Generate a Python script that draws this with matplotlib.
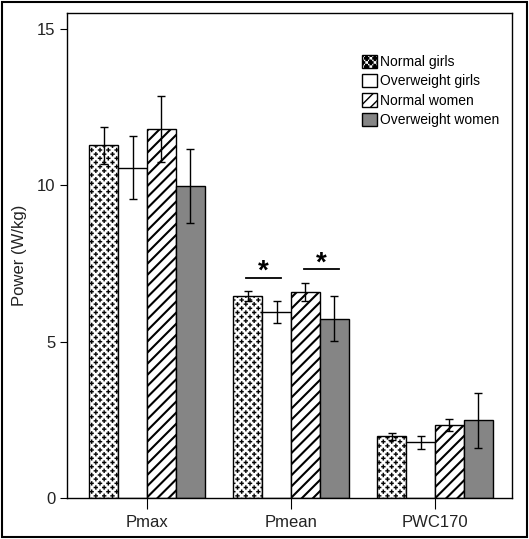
import numpy as np
import matplotlib.pyplot as plt
import matplotlib.hatch as mhatch
from matplotlib.path import Path
from matplotlib.patches import Rectangle

plt.rcParams['font.family'] = ['Liberation Sans', 'DejaVu Sans']


# '*' hatch redrawn as a staggered lattice of small filled plus signs
class PlusHatch(mhatch.HatchPatternBase):
    def __init__(self, hatch, density):
        self.n = hatch.count('*') * density
        a, h = 0.021, 0.0065
        self.shape = np.array([[-h, a], [h, a], [h, h], [a, h], [a, -h], [h, -h],
                               [h, -a], [-h, -a], [-h, -h], [-a, -h], [-a, h],
                               [-h, h], [-h, a]])
        self.centers = []
        if self.n:
            for r in range(2 * self.n + 1):
                y = r / (2 * self.n)
                shift = 0.5 if r % 2 else 0.0
                for k in range(self.n + 1):
                    self.centers.append(((k + shift) / self.n, y))
        self.num_vertices = len(self.centers) * len(self.shape)

    def set_vertices_and_codes(self, vertices, codes):
        m = len(self.shape)
        for i, (cx, cy) in enumerate(self.centers):
            vertices[i * m:(i + 1) * m] = self.shape + [cx, cy]
            codes[i * m] = Path.MOVETO
            codes[i * m + 1:(i + 1) * m] = Path.LINETO


mhatch._hatch_types = [t for t in mhatch._hatch_types if t is not mhatch.Stars] + [PlusHatch]

categories = ['Pmax', 'Pmean', 'PWC170']
groups = ['Normal girls', 'Overweight girls', 'Normal women', 'Overweight women']
means = [
    [11.27, 6.45, 1.97],   # normal girls
    [10.55, 5.94, 1.78],   # overweight girls
    [11.79, 6.59, 2.33],   # normal women
    [9.97, 5.73, 2.48],    # overweight women
]
errs = [
    [0.60, 0.16, 0.12],
    [1.01, 0.34, 0.21],
    [1.05, 0.29, 0.18],
    [1.18, 0.71, 0.88],
]
# significance marks in Pmean: (left bar, right bar)
sig_pairs = [(0, 1), (2, 3)]

fig = plt.figure(figsize=(5.29, 5.39), dpi=100)
ax = fig.add_axes([0.127, 0.076, 0.841, 0.900])

x = np.arange(len(categories))
w = 0.2
faces = ['white', 'white', 'white', '#858585']
hatches = ['**', None, '///', None]
hatch_lw = [0.1, 1.0, 1.5, 1.0]
for i in range(4):
    plt.rcParams['hatch.linewidth'] = hatch_lw[i]
    pos = x + (i - 1.5) * w
    ax.bar(pos, means[i], w, color=faces[i], edgecolor='black', linewidth=1.0,
           hatch=hatches[i], label=groups[i], zorder=2)
    ax.errorbar(pos, means[i], yerr=errs[i], fmt='none', ecolor='black',
                elinewidth=1.0, capsize=3, capthick=1.0, zorder=3)

# asterisks over Pmean
for k, (a, b) in enumerate(sig_pairs):
    y = 7.03 + 0.28 * k
    xa = 1 + (a - 1.5) * w - 0.01
    xb = 1 + (b - 1.5) * w + 0.03
    ax.plot([xa, xb], [y, y], color='black', lw=1.3)
    ax.text((xa + xb) / 2, y - 0.22, '*', ha='center', va='bottom',
            fontsize=20, fontweight='bold')

ax.set_xlim(-0.555, 2.535)
ax.set_ylim(0, 15.5)
ax.set_yticks([0, 5, 10, 15])
ax.set_xticks(x)
ax.set_xticklabels(categories, fontsize=12, color='#222222')
ax.tick_params(axis='y', labelsize=12, length=5, labelcolor='#222222')
ax.tick_params(axis='x', length=8, pad=4)
ax.set_ylabel('Power (W/kg)', fontsize=12, color='#222222', labelpad=7)
for s in ax.spines.values():
    s.set_linewidth(1.0)

leg = ax.legend(loc='upper left', bbox_to_anchor=(0.634, 0.94), frameon=False,
                fontsize=10, handlelength=1.1, handleheight=1.1,
                handletextpad=0.25, labelspacing=0.36)

fig.patches.append(Rectangle((0.003, 0.003), 0.994, 0.994, transform=fig.transFigure,
                             fill=False, edgecolor='black', linewidth=1.5))

fig.savefig('out.png', dpi=100)
